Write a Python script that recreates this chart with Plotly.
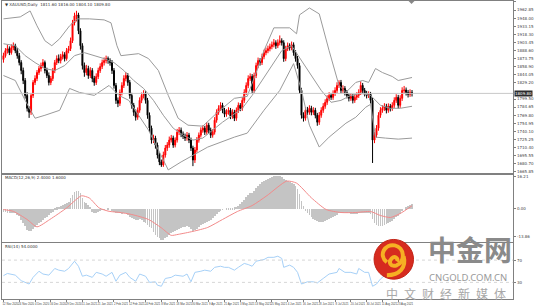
import plotly.graph_objects as go

W, H = 534, 308

# ---------------- data (XAUUSD daily) ----------------
opens = [1872.0,1879.1,1888.3,1891.9,1884.6,1893.7,1897.4,1888.3,1879.1,1866.4,
 1851.8,1833.5,1806.1,1782.4,1775.1,1806.1,1829.9,1837.2,1848.1,1855.4,
 1860.9,1866.4,1851.8,1842.6,1829.9,1837.2,1851.8,1866.4,1873.7,1870.0,
 1877.3,1881.0,1873.7,1888.3,1891.9,1906.5,1939.3,1952.1,1954.0,1924.8,
 1897.4,1860.9,1848.1,1855.4,1842.6,1851.8,1837.2,1829.9,1840.8,1851.8,
 1859.1,1866.4,1870.0,1873.7,1870.0,1866.4,1851.8,1824.4,1797.0,1791.5,
 1811.6,1824.4,1837.2,1842.6,1829.9,1806.1,1787.9,1775.1,1766.0,1778.8,
 1797.0,1806.1,1809.8,1797.0,1769.6,1745.9,1724.0,1727.7,1714.9,1696.6,
 1683.9,1678.4,1696.6,1709.4,1714.9,1724.0,1727.7,1714.9,1724.0,1738.6,
 1742.3,1735.0,1731.3,1727.7,1733.1,1724.0,1709.4,1687.5,1705.8,1724.0,
 1733.1,1742.3,1745.9,1738.6,1751.4,1742.3,1733.1,1738.6,1760.5,1775.1,
 1782.4,1787.9,1778.8,1771.5,1775.1,1778.8,1767.8,1775.1,1764.2,1778.8,
 1787.9,1782.4,1797.0,1811.6,1824.4,1837.2,1840.8,1815.3,1842.6,1860.9,
 1870.0,1866.4,1877.3,1884.6,1888.3,1891.9,1895.6,1899.2,1902.9,1897.4,
 1902.9,1906.5,1902.9,1873.7,1891.9,1897.4,1893.7,1899.2,1884.6,1873.7,
 1860.9,1815.3,1769.6,1764.2,1778.8,1775.1,1782.4,1775.1,1778.8,1769.6,
 1756.9,1769.6,1778.8,1786.1,1793.4,1800.7,1806.1,1802.5,1809.8,1815.3,
 1824.4,1829.9,1815.3,1818.9,1811.6,1806.1,1800.7,1804.3,1797.0,1802.5,
 1806.1,1811.6,1824.4,1815.3,1809.8,1806.1,1808.0,1797.0,1724.0,1733.1,
 1745.9,1769.6,1778.8,1782.4,1786.1,1778.8,1786.1,1782.4,1787.9,1797.0,
 1802.5,1787.9,1800.7,1815.3,1816.0,1811.6,1808.0,1811.6]
highs = [1884.5,1893.0,1898.6,1896.2,1899.8,1903.4,1901.0,1893.1,1884.0,1870.8,
 1857.2,1838.0,1811.9,1786.0,1810.6,1834.2,1843.0,1852.6,1860.0,1866.3,
 1872.8,1870.1,1857.0,1848.3,1841.8,1856.5,1871.2,1879.6,1881.3,1882.4,
 1886.9,1885.5,1893.2,1897.0,1912.4,1944.8,1958.0,1961.5,1957.9,1929.5,
 1902.0,1866.5,1862.2,1860.6,1857.9,1856.2,1842.0,1846.6,1857.0,1865.0,
 1871.9,1875.8,1879.2,1877.5,1874.3,1871.0,1856.4,1829.0,1802.3,1817.0,
 1830.2,1843.1,1848.8,1847.0,1834.5,1810.8,1792.3,1780.2,1784.0,1802.5,
 1811.4,1815.6,1813.9,1801.5,1774.8,1750.6,1733.9,1732.0,1719.5,1701.0,
 1688.2,1702.8,1715.0,1720.3,1730.5,1733.5,1732.2,1729.0,1744.6,1748.0,
 1747.1,1739.8,1736.0,1738.9,1737.3,1728.6,1713.8,1711.3,1729.6,1738.0,
 1747.5,1751.0,1750.2,1757.0,1755.8,1746.9,1744.0,1766.2,1780.5,1788.0,
 1793.6,1792.5,1783.2,1780.8,1784.3,1783.0,1780.7,1779.6,1784.0,1793.2,
 1792.0,1802.8,1817.4,1830.0,1843.0,1846.5,1845.2,1848.0,1866.3,1875.6,
 1874.6,1882.8,1890.1,1894.0,1897.5,1901.2,1905.0,1909.6,1907.3,1909.0,
 1916.2,1911.0,1907.4,1897.3,1903.2,1901.8,1905.0,1903.5,1889.3,1878.5,
 1865.8,1820.0,1775.1,1784.6,1785.0,1788.0,1787.0,1784.5,1783.3,1774.0,
 1775.5,1784.3,1791.9,1799.0,1806.5,1812.0,1810.6,1815.4,1821.0,1830.2,
 1834.0,1834.5,1824.6,1823.2,1816.1,1810.6,1810.0,1808.8,1808.2,1812.0,
 1817.3,1832.0,1829.0,1819.8,1814.4,1813.6,1812.5,1801.5,1739.0,1751.6,
 1775.3,1784.5,1788.0,1791.8,1790.6,1791.5,1790.5,1793.5,1802.6,1808.2,
 1807.0,1806.4,1821.0,1823.5,1820.6,1816.2,1817.3,1816.0]
lows = [1866.2,1875.4,1883.0,1880.1,1880.9,1889.2,1883.6,1873.5,1861.2,1845.0,
 1826.9,1800.2,1776.5,1764.8,1770.3,1801.5,1825.1,1832.4,1843.7,1850.0,
 1856.2,1846.5,1837.9,1824.4,1825.0,1832.6,1847.0,1861.9,1865.2,1864.8,
 1872.1,1868.4,1869.9,1883.5,1887.6,1902.3,1934.6,1942.0,1918.6,1890.2,
 1853.6,1840.3,1843.0,1836.5,1838.0,1830.4,1823.8,1825.3,1836.1,1847.4,
 1854.6,1861.0,1864.9,1864.2,1860.7,1845.5,1818.6,1790.5,1784.6,1786.8,
 1806.0,1819.7,1832.0,1823.7,1800.0,1781.6,1768.5,1759.8,1761.3,1774.2,
 1791.9,1800.5,1791.0,1763.2,1739.0,1717.5,1718.6,1708.3,1690.2,1678.0,
 1674.8,1674.9,1691.8,1704.2,1710.0,1719.6,1709.8,1710.6,1719.5,1733.2,
 1729.5,1726.0,1722.4,1722.9,1718.5,1704.0,1676.2,1682.0,1701.2,1719.3,
 1728.8,1737.6,1733.4,1734.0,1737.0,1727.8,1728.5,1734.1,1755.9,1770.4,
 1777.9,1773.4,1766.1,1767.0,1770.6,1762.5,1763.2,1758.9,1759.5,1774.0,
 1777.1,1777.8,1792.3,1806.9,1819.5,1832.8,1809.6,1810.7,1837.9,1856.0,
 1860.8,1861.9,1872.5,1879.8,1883.6,1887.0,1890.8,1894.4,1891.6,1893.0,
 1898.0,1897.6,1867.8,1869.0,1887.5,1888.4,1889.0,1879.0,1868.0,1855.2,
 1809.0,1763.5,1758.0,1759.7,1769.8,1770.5,1769.5,1770.2,1763.9,1750.3,
 1752.0,1765.0,1774.1,1781.5,1788.7,1796.1,1797.8,1797.9,1805.1,1810.6,
 1819.8,1809.7,1810.7,1806.0,1800.5,1795.0,1796.1,1791.4,1792.4,1797.8,
 1801.5,1806.9,1809.7,1804.2,1800.5,1801.4,1791.2,1682.0,1718.4,1728.5,
 1741.2,1764.9,1774.2,1777.7,1773.0,1774.2,1776.6,1777.8,1783.2,1792.4,
 1782.1,1783.2,1796.0,1809.6,1805.9,1802.3,1803.4,1804.1]
closes = [1879.1,1888.3,1891.9,1884.6,1893.7,1897.4,1888.3,1879.1,1866.4,1851.8,
 1833.5,1806.1,1782.4,1775.1,1806.1,1829.9,1837.2,1848.1,1855.4,1860.9,
 1866.4,1851.8,1842.6,1829.9,1837.2,1851.8,1866.4,1873.7,1870.0,1877.3,
 1881.0,1873.7,1888.3,1891.9,1906.5,1939.3,1952.1,1954.0,1924.8,1897.4,
 1860.9,1848.1,1855.4,1842.6,1851.8,1837.2,1829.9,1840.8,1851.8,1859.1,
 1866.4,1870.0,1873.7,1870.0,1866.4,1851.8,1824.4,1797.0,1791.5,1811.6,
 1824.4,1837.2,1842.6,1829.9,1806.1,1787.9,1775.1,1766.0,1778.8,1797.0,
 1806.1,1809.8,1797.0,1769.6,1745.9,1724.0,1727.7,1714.9,1696.6,1683.9,
 1678.4,1696.6,1709.4,1714.9,1724.0,1727.7,1714.9,1724.0,1738.6,1742.3,
 1735.0,1731.3,1727.7,1733.1,1724.0,1709.4,1687.5,1705.8,1724.0,1733.1,
 1742.3,1745.9,1738.6,1751.4,1742.3,1733.1,1738.6,1760.5,1775.1,1782.4,
 1787.9,1778.8,1771.5,1775.1,1778.8,1767.8,1775.1,1764.2,1778.8,1787.9,
 1782.4,1797.0,1811.6,1824.4,1837.2,1840.8,1815.3,1842.6,1860.9,1870.0,
 1866.4,1877.3,1884.6,1888.3,1891.9,1895.6,1899.2,1902.9,1897.4,1902.9,
 1906.5,1902.9,1873.7,1891.9,1897.4,1893.7,1899.2,1884.6,1873.7,1860.9,
 1815.3,1769.6,1764.2,1778.8,1775.1,1782.4,1775.1,1778.8,1769.6,1756.9,
 1769.6,1778.8,1786.1,1793.4,1800.7,1806.1,1802.5,1809.8,1815.3,1824.4,
 1829.9,1815.3,1818.9,1811.6,1806.1,1800.7,1804.3,1797.0,1802.5,1806.1,
 1811.6,1824.4,1815.3,1809.8,1806.1,1808.0,1797.0,1724.0,1733.1,1745.9,
 1769.6,1778.8,1782.4,1786.1,1778.8,1786.1,1782.4,1787.9,1797.0,1802.5,
 1787.9,1800.7,1815.3,1816.0,1811.6,1808.0,1811.6,1809.8]

# Bollinger bands (bar index, price)
bb_up_idx = [0,8.5,13.5,17,21,24.5,28.5,33.5,37.5,43.5,51,54.5,57.5,59.5,68.5,73.5,78.5,83.5,88.5,93.5,101,108.5,117,123.5,127.5,132,137,145,148.5,150,155,160,165,170,173.5,178.5,182,185,188.5,192,197,200,207]
bb_up = [1946.7,1950.3,1961.3,1933.9,1906.5,1897.4,1910.2,1933.9,1946.7,1946.7,1944.8,1939.4,1897.4,1879.1,1882.8,1873.7,1851.8,1806.1,1764.2,1751.4,1749.6,1775.1,1800.7,1804.3,1842.6,1888.3,1930.2,1930.2,1919.3,1954.0,1966.7,1955.8,1888.3,1824.4,1811.6,1829.9,1833.5,1829.9,1855.4,1848.1,1840.8,1833.5,1839.0]
bb_mid_idx = [0,6,11,16,21,26,31,36,41,46,51,56,61,66,71,76,81,86,91,96,101,106,111,116,121,126,131,136,141,146,151,156,161,166,171,176,181,186,191,196,201,207]
bb_mid = [1901.0,1897.4,1879.1,1866.4,1855.4,1851.8,1860.9,1879.1,1884.6,1879.1,1873.7,1866.4,1851.8,1833.5,1818.9,1797.0,1769.6,1745.9,1733.1,1724.0,1727.7,1742.3,1756.9,1769.6,1782.4,1806.1,1833.5,1860.9,1888.3,1897.4,1870.0,1842.6,1815.3,1793.4,1797.0,1806.1,1809.8,1806.1,1787.9,1782.4,1782.4,1786.1]
bb_lo_idx = [0,6,11,16,21,28.5,33.5,38.5,46,53.5,58.5,63.5,68.5,73.5,78.5,83.5,90,103.5,117,123.5,132,140,147,151,155,160,165,173.5,178.5,183.5,186,188.5,193.5,200,207]
bb_lo = [1842.6,1833.5,1797.0,1764.2,1769.6,1778.8,1818.9,1811.6,1806.1,1824.4,1806.1,1797.0,1769.6,1742.3,1705.8,1669.3,1683.9,1711.2,1729.5,1736.8,1778.8,1815.3,1864.5,1815.3,1751.4,1711.2,1729.5,1755.0,1766.0,1784.3,1789.7,1729.5,1727.7,1725.8,1727.7]

# MACD(12,26,9): histogram per bar, signal line points
macd_hist = [-1.5,-1.6,-1.8,-1.8,-2.0,-1.9,
 -2.0,-2.9,-3.7,-5.3,-7.0,-8.7,-10.3,-11.2,
 -10.8,-10.2,-9.2,-8.0,-7.2,-6.3,-5.5,-4.7,-3.8,-3.0,-2.2,-1.3,
 0.4,0.9,1.2,1.5,2.0,2.5,2.9,3.7,5.4,7.0,
 8.8,9.3,9.3,8.0,5.5,
 3.7,2.9,2.0,1.2,
 -1.3,-2.2,-1.8,-1.3,-0.8,-0.4,
 -0.4,0.0,0.3,0.0,-0.8,-1.5,-2.2,-1.8,
 -2.2,-2.5,-1.8,-2.2,-3.0,-3.8,-4.7,-5.2,-5.5,-5.5,-5.2,-5.5,-6.3,-7.2,-8.0,-8.8,
 -9.7,-11.3,-13.0,-13.8,-14.7,-15.5,-15.5,-14.7,
 -13.8,-13.0,-12.2,-11.3,-10.8,-10.5,
 -10.0,-9.5,-9.0,-8.8,-8.5,-9.0,-10.0,-11.0,
 -10.5,-9.8,-9.0,-8.2,-7.5,-7.0,-6.3,-6.0,
 -5.5,-4.5,-3.5,-2.5,-1.5,-0.8,-0.3,0.0,
 0.3,0.5,0.6,0.6,0.8,1.2,1.8,2.5,
 3.5,4.8,6.0,7.2,8.0,8.0,9.0,10.5,11.8,12.8,
 13.5,14.2,14.8,15.3,15.8,16.2,16.5,16.6,16.5,16.4,16.2,
 15.3,14.8,14.3,13.8,13.3,12.5,11.5,10.2,
 7.5,4.2,1.5,-0.5,-2.0,-3.2,-4.0,-4.8,-5.5,
 -6.2,-6.5,-6.5,-6.3,-6.0,-5.5,-5.0,-4.6,
 -4.0,-3.5,-2.8,-2.2,-2.0,-1.8,-1.8,-2.0,-2.2,-2.3,
 -2.5,-2.5,-2.4,-2.2,-1.8,-1.8,-1.9,-2.0,-2.0,-2.3,
 -5.0,-7.0,-8.2,-8.5,-8.5,-8.3,-8.0,-7.6,-7.2,-6.6,
 -5.8,-4.8,-3.9,-3.3,-2.3,-1.0,0.0,0.8,1.5,2.0,2.4]
sig_idx = [0,5,12,17,23.5,32,39.5,43.5,48.5,53.5,58.5,65,73.5,80,85,88.5,96,103.5,111,118.5,126,133.5,143.5,148.5,156,163.5,171,178.5,186,191,196,201,207]
sig_val = [-0.3,-1.2,-5.3,-9.0,-5.3,0.5,6.6,5.5,0.5,-1.2,-1.7,-2.8,-5.3,-9.5,-13.3,-12.8,-11.3,-9.3,-5.3,-1.3,1.7,6.7,14.0,13.0,5.6,-0.3,-1.8,-1.8,-1.3,-3.3,-4.3,-2.3,1.6]

# RSI(14) points
rsi_idx = [0,2,6,9,13,15,18,20,23,26,28,31,33,36,38,40,42,45,47,50,52,55,57,59,62,64,67,69,72,74,77,78,80,82,85,87,91,93,95,97,100,102,105,107,110,112,114,117,119,122,124,126,128,132,134,137,139,141,142,145,147,149,151,154,157,159,162,165,169,170,173,176,179,180,183,185,187,189,191,193,196,198,201,203,207]
rsi_val = [42,46,43,33,27,39,50,45,43,55,52,50,55,68,59,41,43,39,48,45,41,48,32,43,48,39,32,45,41,30,31,25,23,37,39,43,41,45,31,48,50,52,50,57,59,57,57,52,57,64,62,59,68,71,75,75,77,73,57,61,57,48,27,31,31,29,37,45,48,55,48,48,45,55,48,48,23,27,36,42,44,50,48,56,54]

# tick labels
price_ticks = [1977.70,1962.85,1948.00,1933.15,1918.30,1903.45,1888.60,1873.75,1858.90,1844.05,
 1829.20,1799.50,1784.65,1769.80,1754.95,1740.10,1725.25,1710.40,1695.55,1680.70,1665.85]
date_idx = list(range(0, 208, 8))
date_txt = ["12 Nov 2020","24 Nov 2020","4 Dec 2020","16 Dec 2020","29 Dec 2020","11 Jan 2021",
 "21 Jan 2021","2 Feb 2021","12 Feb 2021","24 Feb 2021","8 Mar 2021","18 Mar 2021","30 Mar 2021",
 "9 Apr 2021","21 Apr 2021","3 May 2021","13 May 2021","25 May 2021","4 Jun 2021","16 Jun 2021",
 "28 Jun 2021","8 Jul 2021","20 Jul 2021","30 Jul 2021","11 Aug 2021","23 Aug 2021"]
macd_ticks = [16.21, 0.00, -13.86]
rsi_ticks = [70, 30]

idx = list(range(len(closes)))

# ---------------- layout helpers (pixel -> paper) ----------------
def px(x):
    return x / W
def py(y):
    return (H - y) / H

XL, XR = 2, 520
FONT = "DejaVu Sans"
NARROW = "Liberation Sans Narrow, Liberation Sans, Arial"
AX = "#808080"

fig = go.Figure()

fig.add_trace(go.Candlestick(
    x=idx, open=opens, high=highs, low=lows, close=closes,
    xaxis="x3", yaxis="y3",
    increasing=dict(line=dict(color="#ff0000", width=1), fillcolor="#ff0000"),
    decreasing=dict(line=dict(color="#000000", width=1), fillcolor="#000000"),
    whiskerwidth=0, hoverinfo="skip"))

for xi, yv in ((bb_up_idx, bb_up), (bb_mid_idx, bb_mid), (bb_lo_idx, bb_lo)):
    fig.add_trace(go.Scatter(x=xi, y=yv, mode="lines", xaxis="x3", yaxis="y3",
                             line=dict(color="#9a9a9a", width=1), hoverinfo="skip"))

fig.add_trace(go.Bar(x=idx, y=macd_hist, xaxis="x2", yaxis="y2", width=0.4,
                     marker=dict(color="#c4c4c4", line=dict(width=0)), hoverinfo="skip"))
fig.add_trace(go.Scatter(x=sig_idx, y=sig_val, mode="lines", xaxis="x2", yaxis="y2",
                         line=dict(color="#f28a8a", width=1, shape="spline", smoothing=0.6),
                         hoverinfo="skip"))

fig.add_trace(go.Scatter(x=rsi_idx, y=rsi_val, mode="lines", xaxis="x", yaxis="y",
                         line=dict(color="#a6d0f7", width=1), hoverinfo="skip"))

xcommon = dict(range=[-0.75, 258.25], showgrid=False, zeroline=False, showline=True,
               linecolor=AX, linewidth=1, mirror=True, rangeslider=dict(visible=False),
               domain=[px(XL), px(XR)])
ycommon = dict(side="right", showgrid=False, zeroline=False, showline=True, linecolor=AX,
               linewidth=1, mirror=True, ticks="outside", ticklen=2, tickcolor=AX,
               tickfont=dict(family=FONT, size=4, color="#444"))

fig.update_layout(
    width=W, height=H, margin=dict(l=0, r=0, t=0, b=0),
    paper_bgcolor="white", plot_bgcolor="white", showlegend=False, bargap=0,
    xaxis=dict(**xcommon, anchor="y", tickvals=date_idx, ticktext=date_txt, ticks="outside",
               ticklen=2, tickcolor=AX, tickangle=0, ticklabelshift=7,
               tickfont=dict(family=NARROW, size=2.8, color="#444")),
    xaxis2=dict(**xcommon, anchor="y2", matches="x", showticklabels=False),
    xaxis3=dict(**xcommon, anchor="y3", matches="x", showticklabels=False),
    yaxis=dict(**ycommon, domain=[py(300), py(244)], range=[0, 100], anchor="x",
               tickvals=rsi_ticks, ticktext=[str(v) for v in rsi_ticks]),
    yaxis2=dict(**ycommon, domain=[py(243), py(175)], range=[-16.85, 17.15], anchor="x2",
                tickvals=macd_ticks, ticktext=["%.2f" % v for v in macd_ticks]),
    yaxis3=dict(**ycommon, domain=[py(173), 1.0], range=[1663.8, 1979.5], anchor="x3",
                tickvals=price_ticks, ticktext=["%.2f" % v for v in price_ticks]),
)

shapes = []
last = closes[-1]
shapes.append(dict(type="line", xref="paper", yref="y3", x0=px(XL), x1=px(XR), y0=last, y1=last,
                   line=dict(color="#c8c8c8", width=1)))
for lv in (70, 30):
    shapes.append(dict(type="line", xref="paper", yref="y", x0=px(XL), x1=px(XR), y0=lv, y1=lv,
                       line=dict(color="#d6d6d6", width=1, dash="dot")))
shapes.append(dict(type="path", xref="paper", yref="paper",
                   path=f"M {px(414)} {py(0)} L {px(420)} {py(0)} L {px(417)} {py(3)} Z",
                   fillcolor="#888", line=dict(width=0)))
shapes.append(dict(type="circle", xref="paper", yref="paper",
                   x0=px(379), x1=px(419), y0=py(280), y1=py(240),
                   fillcolor="#d62b1f", line=dict(color="#c22216", width=1)))
def P(x, y):
    return f"{px(x):.5f},{py(y):.5f}"
swirl = (f"M {P(392,263)} C {P(383,256)} {P(390,244)} {P(400,246)} "
         f"C {P(410,248)} {P(411,262)} {P(402,266)} C {P(396,268)} {P(393,263)} {P(397,259)} "
         f"C {P(400,256)} {P(404,259)} {P(402,262)}")
shapes.append(dict(type="path", xref="paper", yref="paper", path=swirl,
                   line=dict(color="#f6b023", width=4)))
tail = f"M {P(409,257)} C {P(412,268)} {P(405,276)} {P(392,276)}"
shapes.append(dict(type="path", xref="paper", yref="paper", path=tail,
                   line=dict(color="#f6b023", width=4)))
fig.update_layout(shapes=shapes)

ann = []
def text(x, y, s, size, color="#333", xanchor="left", family=FONT, **kw):
    ann.append(dict(x=px(x), y=py(y), xref="paper", yref="paper", text=s, showarrow=False,
                    xanchor=xanchor, yanchor="middle", borderpad=0,
                    font=dict(family=family, size=size, color=color), **kw))

text(4, 4, "\u25bc XAUUSD,Daily  %.2f %.2f %.2f %.2f" % (opens[-1], highs[-1], lows[-1], closes[-1]), 4)
text(4, 178, "MACD(12,26,9) %.4f %.4f" % (macd_hist[-1], sig_val[-1]), 4)
text(4, 247, "RSI(14) %.4f" % rsi_val[-1], 4)
ann.append(dict(x=px(XR + 1), y=last, xref="paper", yref="y3", text="%.2f" % last,
                showarrow=False, xanchor="left", yanchor="middle", bgcolor="#2b2b2b",
                borderpad=0, font=dict(family=FONT, size=4, color="white")))
# watermark text
text(476, 250, "<b>中金网</b>", 28, color="#8a8a8a", xanchor="center", family="Noto Sans CJK SC")
text(474, 278.5, "CNGOLD.COM.CN", 9.5, color="#9a9a9a", xanchor="center", family="Noto Sans")
text(452, 294.5, "中\u2002文\u2002财\u2002经\u2002新\u2002媒\u2002体", 12, color="#a8a8a8",
     xanchor="center", family="Noto Sans CJK SC")
fig.update_layout(annotations=ann)

fig.write_html("out.html")
